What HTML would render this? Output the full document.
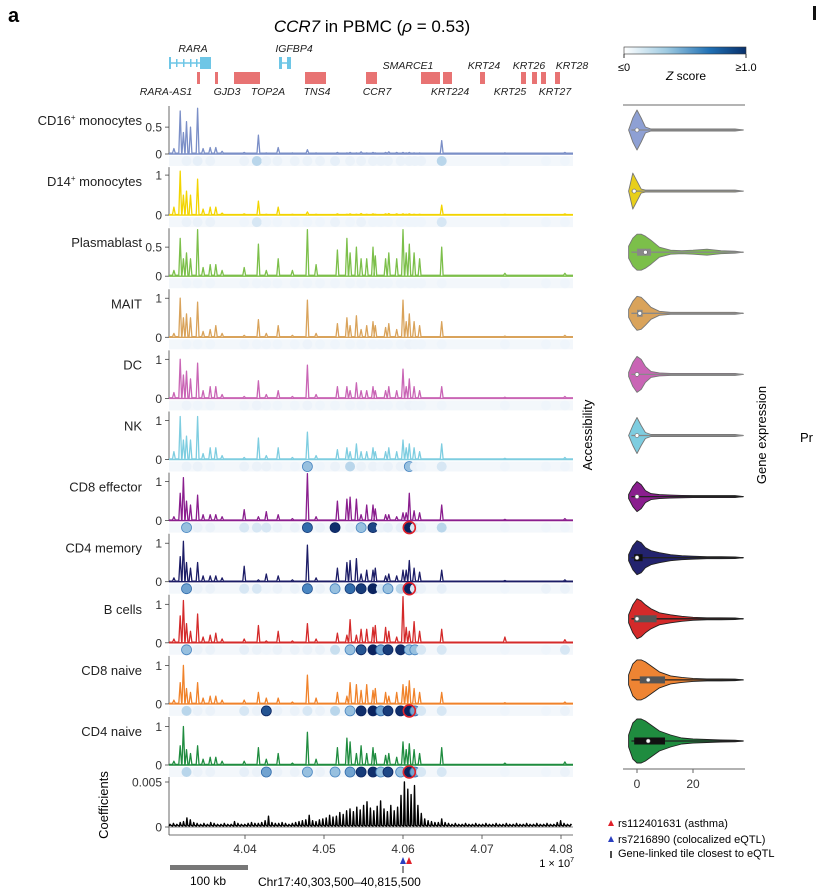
<!DOCTYPE html>
<html><head><meta charset="utf-8">
<style>
html,body{margin:0;padding:0;background:#fff;}
svg{display:block;font-family:"Liberation Sans",sans-serif;}
</style></head>
<body>
<svg id="fig" width="819" height="891" viewBox="0 0 819 891" xmlns="http://www.w3.org/2000/svg">
<defs>
<linearGradient id="zgrad" x1="0" x2="1" y1="0" y2="0">
<stop offset="0" stop-color="#ffffff"/><stop offset="0.35" stop-color="#9ecae1"/><stop offset="0.7" stop-color="#2171b5"/><stop offset="1" stop-color="#08306b"/>
</linearGradient>
</defs>
<text x="8" y="22" font-size="20" font-weight="bold">a</text>
<text x="372" y="32" font-size="17" text-anchor="middle"><tspan font-style="italic">CCR7</tspan> in PBMC (<tspan font-style="italic">ρ</tspan> = 0.53)</text>
<rect x="813" y="6" width="3" height="14" fill="#111"/>
<g id="genes" font-size="10.5" font-style="italic" fill="#222">
  <line x1="169" y1="63" x2="211" y2="63" stroke="#6ec6e6" stroke-width="1.5"/>
  <rect x="169" y="57" width="2" height="12" fill="#6ec6e6"/><rect x="176" y="59" width="1.5" height="8" fill="#6ec6e6"/><rect x="183" y="59" width="1.5" height="8" fill="#6ec6e6"/><rect x="190" y="59" width="1.5" height="8" fill="#6ec6e6"/><rect x="196" y="59" width="1.5" height="8" fill="#6ec6e6"/>
  <rect x="200" y="57" width="11" height="12" fill="#6ec6e6"/>
  <line x1="279" y1="63" x2="291" y2="63" stroke="#6ec6e6" stroke-width="1.5"/>
  <rect x="279" y="57" width="3" height="12" fill="#6ec6e6"/><rect x="287" y="57" width="4" height="12" fill="#6ec6e6"/>
  <g fill="#e87373">
    <rect x="197" y="72" width="3" height="12"/><rect x="215" y="72" width="3" height="12"/><rect x="234" y="72" width="26" height="12"/>
    <rect x="305" y="72" width="21" height="12"/><rect x="366" y="72" width="11" height="12"/><rect x="421" y="72" width="19" height="12"/>
    <rect x="443" y="72" width="9" height="12"/><rect x="480" y="72" width="5" height="12"/><rect x="521" y="72" width="5" height="12"/>
    <rect x="532" y="72" width="5" height="12"/><rect x="541" y="72" width="5" height="12"/><rect x="555" y="72" width="5" height="12"/>
  </g>
  <text x="193" y="52" text-anchor="middle">RARA</text><text x="294" y="52" text-anchor="middle">IGFBP4</text>
  <text x="408" y="69" text-anchor="middle">SMARCE1</text><text x="484" y="69" text-anchor="middle">KRT24</text>
  <text x="529" y="69" text-anchor="middle">KRT26</text><text x="572" y="69" text-anchor="middle">KRT28</text>
  <text x="166" y="95" text-anchor="middle">RARA-AS1</text><text x="227" y="95" text-anchor="middle">GJD3</text>
  <text x="268" y="95" text-anchor="middle">TOP2A</text><text x="317" y="95" text-anchor="middle">TNS4</text>
  <text x="377" y="95" text-anchor="middle">CCR7</text><text x="450" y="95" text-anchor="middle">KRT224</text>
  <text x="510" y="95" text-anchor="middle">KRT25</text><text x="555" y="95" text-anchor="middle">KRT27</text>
</g>
<g id="tracks"></g>
<g id="violins"></g>
<g>
  <rect x="624" y="47" width="122" height="7" fill="url(#zgrad)" stroke="#333" stroke-width="0.6"/>
  <line x1="624" y1="54" x2="624" y2="58" stroke="#333"/><line x1="746" y1="54" x2="746" y2="58" stroke="#333"/>
  <text x="624" y="71" font-size="11" text-anchor="middle">≤0</text>
  <text x="746" y="71" font-size="11" text-anchor="middle">≥1.0</text>
  <text x="686" y="80" font-size="12" text-anchor="middle"><tspan font-style="italic">Z</tspan> score</text>
</g>
<text transform="translate(592,435) rotate(-90)" font-size="13" text-anchor="middle">Accessibility</text>
<text transform="translate(766,435) rotate(-90)" font-size="13" text-anchor="middle">Gene expression</text>
<text x="800" y="442" font-size="13">Pr</text>
<text transform="translate(108,805) rotate(-90)" font-size="13" text-anchor="middle">Coefficients</text>
<g>
  <rect x="170" y="865" width="78" height="5" fill="#777"/>
  <text x="208" y="885" font-size="12" text-anchor="middle">100 kb</text>
</g>
<text x="258" y="886" font-size="12">Chr17:40,303,500–40,815,500</text>
<text x="574" y="867" font-size="11" text-anchor="end">1 × 10<tspan font-size="7" dy="-5">7</tspan></text>
<g>
  <polygon points="400,864 406,864 403,857" fill="#2a3fbf"/>
  <polygon points="406,864 412,864 409,857" fill="#e0202a"/>
  <line x1="403" y1="866" x2="403" y2="873" stroke="#222" stroke-width="1"/>
</g>
<g font-size="11">
  <g><polygon points="608,826 614,826 611,820" fill="#e0202a"/><text x="618" y="827">rs112401631 (asthma)</text></g>
  <g><polygon points="608,842 614,842 611,836" fill="#2a3fbf"/><text x="618" y="843">rs7216890 (colocalized eQTL)</text></g>
  <g><line x1="611" y1="851" x2="611" y2="858" stroke="#111" stroke-width="1.5"/><text x="618" y="857">Gene-linked tile closest to eQTL</text></g>
</g>
</svg>
<script>
// ---------- data ----------
const cellTypes = ["CD16+ monocytes","D14+ monocytes","Plasmablast","MAIT","DC","NK","CD8 effector","CD4 memory","B cells","CD8 naive","CD4 naive"];
const peakPos = [4.0310,4.0318,4.0322,4.0326,4.0331,4.0340,4.0347,4.0356,4.0363,4.0371,4.0399,4.0417,4.0427,4.0442,4.0460,4.0479,4.0490,4.0517,4.0529,4.0533,4.0541,4.0547,4.0554,4.0562,4.0565,4.0578,4.0582,4.0592,4.0600,4.0604,4.0608,4.0614,4.0621,4.0649,4.0729,4.0805];
const accCD16 = [0.1,0.8,0.4,0.6,0.5,0.85,0.1,0.12,0.12,0.05,0.03,0.35,0.02,0.12,0.02,0.08,0.02,0.03,0.02,0.03,0.02,0.04,0.02,0.03,0.02,0.03,0.04,0.03,0.03,0.02,0.03,0.02,0.02,0.25,0.02,0.03];
const accD14 = [0.2,1.1,0.5,0.6,0.5,0.9,0.15,0.2,0.2,0.05,0.03,0.35,0.02,0.2,0.02,0.08,0.02,0.03,0.02,0.03,0.02,0.04,0.02,0.03,0.02,0.03,0.04,0.03,0.03,0.02,0.03,0.02,0.02,0.25,0.02,0.03];
const accPlasmablast = [0.1,0.65,0.3,0.4,0.3,0.8,0.15,0.2,0.2,0.1,0.15,0.55,0.1,0.3,0.1,0.8,0.2,0.45,0.65,0.4,0.5,0.3,0.3,0.5,0.35,0.3,0.4,0.3,0.8,0.4,0.55,0.4,0.3,0.5,0.05,0.05];
const accMAIT = [0.1,1.0,0.5,0.6,0.5,0.9,0.15,0.2,0.3,0.1,0.05,0.45,0.1,0.3,0.05,0.95,0.1,0.35,0.5,0.3,0.55,0.2,0.3,0.4,0.3,0.25,0.35,0.2,0.95,0.4,0.6,0.4,0.3,0.4,0.03,0.05];
const accDC = [0.15,1.0,0.6,0.7,0.5,0.9,0.2,0.3,0.3,0.1,0.05,0.45,0.1,0.2,0.05,0.85,0.1,0.3,0.3,0.2,0.4,0.2,0.2,0.3,0.2,0.2,0.3,0.2,0.75,0.3,0.5,0.3,0.2,0.3,0.03,0.05];
const accNK = [0.2,1.1,0.5,0.6,0.5,1.1,0.15,0.3,0.3,0.1,0.05,0.55,0.1,0.3,0.05,0.7,0.1,0.25,0.3,0.2,0.4,0.2,0.2,0.3,0.2,0.2,0.3,0.2,0.5,0.3,0.4,0.3,0.2,0.4,0.03,0.05];
const accCD8eff = [0.1,0.7,1.1,0.5,0.4,0.65,0.15,0.15,0.15,0.1,0.28,0.1,0.23,0.15,0.05,1.2,0.1,0.5,0.55,0.6,0.55,0.15,0.4,0.4,0.3,0.15,0.15,0.1,0.2,0.2,0.7,0.25,0.2,0.4,0.03,0.05];
const accCD4mem = [0.1,0.65,1.05,0.5,0.35,0.5,0.15,0.15,0.15,0.1,0.4,0.05,0.2,0.15,0.05,0.95,0.1,0.35,0.5,0.55,0.6,0.2,0.3,0.3,0.35,0.15,0.2,0.15,0.3,0.3,0.55,0.35,0.25,0.3,0.03,0.05];
const accBcells = [0.1,0.7,1.1,0.5,0.3,0.75,0.15,0.2,0.25,0.1,0.1,0.45,0.05,0.3,0.05,0.5,0.1,0.25,0.2,0.6,0.2,0.35,0.35,0.4,0.45,0.4,0.3,0.15,1.2,0.4,0.3,0.55,0.3,0.35,0.15,0.08];
const accCD8naive = [0.1,0.55,1.0,0.4,0.3,0.55,0.15,0.2,0.2,0.1,0.1,0.3,0.15,0.15,0.05,0.75,0.15,0.3,0.2,0.55,0.5,0.35,0.5,0.35,0.4,0.3,0.2,0.3,0.5,0.45,0.6,0.4,0.3,0.3,0.03,0.05];
const accCD4naive = [0.1,0.5,1.0,0.4,0.3,0.5,0.15,0.2,0.2,0.1,0.1,0.45,0.15,0.3,0.05,0.85,0.15,0.45,0.7,0.6,0.3,0.5,0.3,0.45,0.3,0.25,0.3,0.2,0.6,0.4,0.55,0.4,0.3,0.45,0.05,0.08];
const yMaxes = [0.93,1.25,0.86,1.28,1.28,1.28,1.28,1.3,1.3,1.3,1.3];
const yTicksSmall = [0,0.5];
const yTicksUnit = [0,1];
const dotPos = [4.0326,4.0340,4.0356,4.0399,4.0415,4.0427,4.0441,4.0463,4.0479,4.0495,4.0514,4.0533,4.0547,4.0562,4.0572,4.0581,4.0597,4.0608,4.0615,4.0623,4.0649,4.0729,4.0781,4.0805];
const zCD16 =   [0.1,0.15,0.1,0.1,0.3,0.1,0.1,0.1,0.1,0.1,0.15,0.1,0.1,0.1,0.1,0.1,0.1,0.1,0.1,0.1,0.3,0.05,0.05,0.05];
const zD14 =    [0.1,0.1,0.1,0.05,0.2,0.05,0.05,0.05,0.05,0.05,0.1,0.05,0.1,0.05,0.05,0.05,0.05,0.05,0.05,0.05,0.2,0.05,0.05,0.05];
const zPlasma = [0.05,0.05,0.05,0.05,0.05,0.05,0.05,0.05,0.05,0.05,0.05,0.05,0.05,0.05,0.05,0.05,0.05,0.05,0.05,0.05,0.05,0.05,0.05,0.05];
const zMAIT =   [0.05,0.05,0.05,0.05,0.05,0.05,0.05,0.05,0.08,0.05,0.05,0.05,0.05,0.05,0.05,0.05,0.05,0.08,0.05,0.05,0.05,0.05,0.05,0.05];
const zDC =     [0.08,0.05,0.05,0.05,0.08,0.05,0.05,0.05,0.08,0.05,0.05,0.05,0.05,0.05,0.05,0.05,0.05,0.08,0.05,0.05,0.05,0.05,0.05,0.05];
const zNK =     [0.1,0.1,0.05,0.1,0.1,0.1,0.05,0.05,0.4,0.05,0.1,0.3,0.1,0.1,0.05,0.1,0.1,0.4,0.1,0.05,0.2,0.05,0.05,0.05];
const zCD8eff = [0.4,0.1,0.1,0.2,0.2,0.2,0.1,0.1,0.7,0.1,0.95,0.1,0.4,0.85,0.1,0.15,0.15,1.0,0.2,0.1,0.3,0.05,0.05,0.05];
const zCD4mem = [0.5,0.1,0.1,0.2,0.2,0.05,0.1,0.1,0.6,0.1,0.4,0.7,0.9,1.0,0.2,0.4,0.3,1.0,0.2,0.1,0.15,0.05,0.1,0.1];
const zBcells = [0.4,0.1,0.1,0.15,0.1,0.05,0.1,0.1,0.1,0.1,0.25,0.4,0.8,1.0,0.5,0.9,0.95,0.4,0.4,0.2,0.2,0.05,0.05,0.2];
const zCD8naive=[0.3,0.1,0.1,0.2,0.1,0.8,0.1,0.1,0.2,0.1,0.3,0.4,0.95,1.0,0.5,0.9,0.95,1.0,0.5,0.2,0.2,0.05,0.05,0.1];
const zCD4naive=[0.3,0.1,0.1,0.15,0.1,0.5,0.1,0.1,0.4,0.1,0.4,0.5,0.9,0.95,0.4,0.85,0.4,1.0,0.5,0.2,0.2,0.05,0.05,0.1];
const linkedTile = [false,false,false,false,false,false,true,true,false,true,true];
const coefStart = 4.0304;
const coefStep = 0.00043;
const coefMilli = [
 .3,.4,.3,.5,.6,1.0,.8,.5,.4,.3,
 .4,.3,.5,.4,.3,.3,.4,.3,.3,.6,
 .4,.3,.3,.4,.5,.4,.4,.5,.7,1.2,
 .5,.4,.4,.5,.4,.3,.4,.5,.6,.7,
 .8,1.3,.7,.6,.8,.9,1.0,1.3,1.1,1.2,
 1.6,1.4,1.8,2.0,1.7,2.2,1.9,2.4,2.8,2.1,
 1.8,2.3,2.9,2.0,1.7,2.4,1.8,2.2,3.5,5.0,
 4.2,3.6,4.6,2.4,1.5,0.9,0.7,0.6,0.5,0.5,
 .9,.5,.4,.3,.4,.3,.3,.4,.3,.3,
 .4,.3,.3,.4,.3,.3,.4,.3,.3,.4,
 .3,.3,.4,.3,.3,.4,.3,.3,.4,.3,
 .3,.4,.3,.3,.5,.7,.4,.3,.3,.4];
const coefTicks = [0,0.005];
const xTicks = [4.04,4.05,4.06,4.07,4.08];
const xTickLabels = ["4.04","4.05","4.06","4.07","4.08"];
// violin data
const violinValues = [-3,-1.5,0,1.5,3,5,8,12,16,20,25,30,35,38];
const densCD16 = [0,12,20,12,3,1,1,1,1,1,1,1,1,0];
const densD14 = [0,18,10,2,1,1,1,1,1,1,1,1,1,0];
const densPlasma = [6,14,18,18,16,12,5,2,1.5,2,3,1.5,1,0];
const densMAIT = [4,12,17,16,12,6,2,1,1,1,1,1,1,0];
const densDC = [2,12,18,15,8,3,1.5,1,1,1,1,1,1,0];
const densNK = [0,10,18,10,3,1,1,1,1,1,1,1,1,0];
const densCD8eff = [2,10,15,12,6,3,2,1.5,1.2,1,1,1,1,0];
const densCD4mem = [3,12,17,15,10,7,5,3,2,1.5,1,1,0.8,0];
const densBcells = [4,14,20,18,14,10,6,4,2.5,1.5,1,1,0.8,0];
const densCD8naive = [5,16,20,20,18,14,8,4,2.5,1.5,1,1,0.8,0];
const densCD4naive = [6,18,22,22,20,16,10,6,3,2,1.5,1,0.8,0];
const medians = [0,-1,3,1,0,0,0,0,0,4,4];
const q1s = [0,-1,0,0,0,0,0,-1,-1,1,-1];
const q3s = [0,-1,5,2,0,0,0,2,7,10,10];
const violinTicks = [0,20];

// ---------- style ----------
const colors = ["#7b8fc7","#f2d400","#7cbf4a","#d9a35b","#c965b5","#7ecde0","#8a1e8e","#1c1c66","#d42a2a","#f0822a","#1f8c3f"];
const violinFill = ["#8ea0d4","#e8cf1a","#7cbf4a","#d9a35b","#c965b5","#7ecde0","#8a1e8e","#23236e","#d42a2a","#ee8433","#1f8c3f"];
const boxColor = ["#888","#888","#888","#888","#888","#888","#111","#111","#555","#555","#111"];
const accSeries = [accCD16,accD14,accPlasmablast,accMAIT,accDC,accNK,accCD8eff,accCD4mem,accBcells,accCD8naive,accCD4naive];
const zSeries = [zCD16,zD14,zPlasma,zMAIT,zDC,zNK,zCD8eff,zCD4mem,zBcells,zCD8naive,zCD4naive];
const densSeries = [densCD16,densD14,densPlasma,densMAIT,densDC,densNK,densCD8eff,densCD4mem,densBcells,densCD8naive,densCD4naive];
const NS = "http://www.w3.org/2000/svg";
const X0 = 169, X1 = 573;
function xScale(g){ return 245 + (g - 4.04) * 7900; }
function zeroY(i){ return 154 + i * 61.1; }
const PH = 50;
function vx(v){ return 637 + v * 2.8; }
function mk(tag, attrs, parent){ const e = document.createElementNS(NS, tag); for (const k in attrs) e.setAttribute(k, attrs[k]); parent.appendChild(e); return e; }
function zColor(z){
  const stops=[[0,[244,248,252]],[0.15,[230,239,248]],[0.35,[170,206,230]],[0.65,[55,120,185]],[1,[10,35,95]]];
  z=Math.max(0,Math.min(1,z));
  for(let k=1;k<stops.length;k++){ if(z<=stops[k][0]){ const a=stops[k-1],b=stops[k],t=(z-a[0])/(b[0]-a[0]); return "rgb("+a[1].map((c,j)=>Math.round(c+(b[1][j]-c)*t)).join(",")+")"; } }
  return "rgb(10,35,95)";
}
const tracks = document.getElementById("tracks");
for (let i = 0; i < cellTypes.length; i++) {
  const g = mk("g", {}, tracks);
  
  
  const z0 = zeroY(i), ymax = yMaxes[i];
  const ys = v => z0 - v / ymax * PH;
  const lab = mk("text", {x:142, y:z0-29, "font-size":13, "text-anchor":"end", fill:"#222"}, g);
  
  
  const nm = cellTypes[i];
  if (nm.indexOf("+")>=0){ const p = nm.split("+"); lab.appendChild(document.createTextNode(p[0])); const t=mk("tspan",{"font-size":8,dy:-5},lab); t.textContent="+"; const t2=mk("tspan",{dy:5},lab); t2.textContent=p[1]; }
  else lab.textContent = nm;
  mk("rect", {x:X0, y:z0+2, width:X1-X0, height:10, fill:"#f3f7fb"}, g);
  mk("line", {x1:X0, y1:z0-PH+2, x2:X0, y2:z0, stroke:"#444", "stroke-width":0.8}, g);
  const ticks = (i===0||i===2) ? yTicksSmall : yTicksUnit;
  ticks.forEach(t => {
    const y = ys(t);
    mk("line", {x1:X0-4, y1:y, x2:X0, y2:y, stroke:"#444", "stroke-width":0.8}, g);
    const tl = mk("text", {x:X0-7, y:y+4.5, "font-size":12, "text-anchor":"end", fill:"#333"}, g);
    
    
    tl.textContent = String(t);
  });
  const vals = accSeries[i];
  const base = 0.015;
  let d = "M" + X0 + "," + ys(base).toFixed(1);
  for (let k = 0; k < peakPos.length; k++) {
    const px = xScale(peakPos[k]);
    d += " L" + (px-1.4).toFixed(1) + "," + ys(base).toFixed(1) + " L" + px.toFixed(1) + "," + ys(vals[k]).toFixed(1) + " L" + (px+1.4).toFixed(1) + "," + ys(base).toFixed(1);
  }
  d += " L" + X1 + "," + ys(base).toFixed(1);
  const sig = mk("path", {d:d, fill:"none", stroke:colors[i], "stroke-width":1.3, "stroke-linejoin":"round"}, g);
  
  
  mk("line", {x1:X0, y1:z0, x2:X1, y2:z0, stroke:colors[i], "stroke-width":1.4}, g);
  const zs = zSeries[i];
  for (let k = 0; k < dotPos.length; k++) {
    const z = zs[k];
    const c = mk("circle", {cx:xScale(dotPos[k]), cy:z0+7, r:5, fill:zColor(z), stroke:(z>0.3?zColor(Math.min(1,z+0.2)):"none"), "stroke-width":0.8}, g);
    
    
  }
  if (linkedTile[i]) {
    const r = mk("circle", {cx:xScale(4.0608), cy:z0+7, r:6, fill:"none", stroke:"#e0202a", "stroke-width":1.6}, g);
    
    
  }
}
{
  const g = mk("g", {}, tracks);
  
  
  const z0 = 827, top = 782;
  const ys = v => z0 - v / 0.005 * (z0 - top);
  mk("line", {x1:X0, y1:top-5, x2:X0, y2:z0+8, stroke:"#444", "stroke-width":0.8}, g);
  coefTicks.forEach(t => {
    const y = ys(t);
    mk("line", {x1:X0-4, y1:y, x2:X0, y2:y, stroke:"#444", "stroke-width":0.8}, g);
    const tl = mk("text", {x:X0-7, y:y+4.5, "font-size":12, "text-anchor":"end", fill:"#333"}, g);
    
    
    tl.textContent = String(t);
  });
  mk("line", {x1:X0, y1:z0, x2:X1, y2:z0, stroke:"#999", "stroke-width":1.2}, g);
  let d = "";
  for (let k = 0; k < coefMilli.length; k++) {
    const x = xScale(coefStart + k * coefStep);
    if (x > X1) break;
    const y = ys(coefMilli[k] / 1000);
    d += (k === 0 ? "M" : " L") + x.toFixed(1) + "," + ys(0.0001).toFixed(1) + " L" + (x+0.8).toFixed(1) + "," + y.toFixed(1) + " L" + (x+1.6).toFixed(1) + "," + ys(0.0002).toFixed(1);
  }
  const p = mk("path", {d:d, fill:"none", stroke:"#000", "stroke-width":1.4, "stroke-linejoin":"round"}, g);
  
  
  mk("line", {x1:X0, y1:z0+8, x2:X1, y2:z0+8, stroke:"#444", "stroke-width":0.8}, g);
  xTicks.forEach((t, k) => {
    const x = xScale(t);
    mk("line", {x1:x, y1:z0+8, x2:x, y2:z0+12, stroke:"#444", "stroke-width":0.8}, g);
    const tl = mk("text", {x:x, y:853, "font-size":12, "text-anchor":"middle", fill:"#333"}, g);
    
    
    tl.textContent = xTickLabels[k];
  });
}
const vg = document.getElementById("violins");
mk("line", {x1:623, y1:105, x2:745, y2:105, stroke:"#888", "stroke-width":1.2}, vg);
for (let i = 0; i < cellTypes.length; i++) {
  const g = mk("g", {}, vg);
  
  
  const cy = zeroY(i) - 24;
  const dens = densSeries[i];
  let up = [], dn = [];
  for (let k = 0; k < violinValues.length; k++) {
    const x = vx(violinValues[k]);
    up.push(x.toFixed(1) + "," + (cy - dens[k]).toFixed(1));
    dn.unshift(x.toFixed(1) + "," + (cy + dens[k]).toFixed(1));
  }
  mk("polygon", {points: up.concat(dn).join(" "), fill:violinFill[i], stroke:(i>=6?"#222":"#777"), "stroke-width":0.9, "stroke-linejoin":"round"}, g);
  mk("line", {x1:vx(violinValues[0]+1), y1:cy, x2:vx(38), y2:cy, stroke:(i>=6?"#222":"#888"), "stroke-width":1.3}, g);
  if (q3s[i] > q1s[i]) mk("rect", {x:vx(q1s[i]), y:cy-3.5, width:vx(q3s[i])-vx(q1s[i]), height:7, fill:boxColor[i]}, g);
  mk("circle", {cx:vx(medians[i]), cy:cy, r:2, fill:"#fff", stroke:"#666", "stroke-width":0.6}, g);
}
mk("line", {x1:623, y1:769, x2:745, y2:769, stroke:"#666", "stroke-width":1}, vg);
violinTicks.forEach(t => {
  mk("line", {x1:vx(t), y1:769, x2:vx(t), y2:773, stroke:"#666"}, vg);
  const tl = mk("text", {x:vx(t), y:788, "font-size":12, "text-anchor":"middle", fill:"#333"}, vg);
  
  
  tl.textContent = String(t);
});
</script>
</body></html>
